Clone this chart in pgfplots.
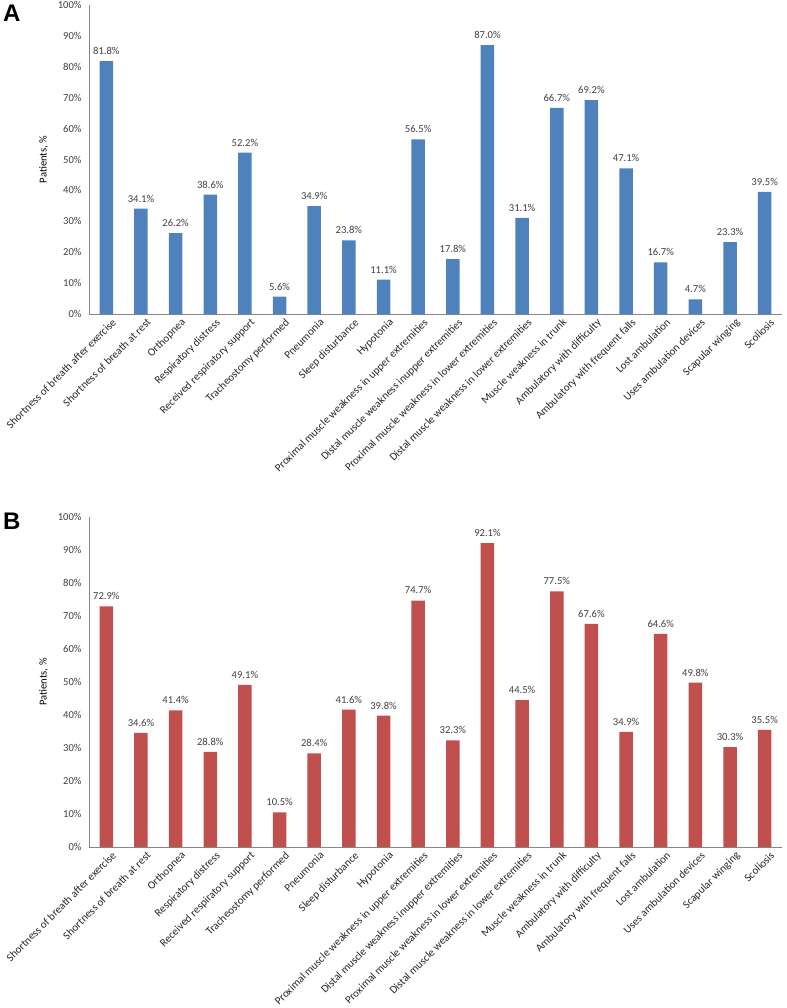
\documentclass[border=0pt]{standalone}
\usepackage{pgfplots}
\pgfplotsset{compat=1.18}
\usepackage{fontspec}
\setmainfont{Carlito}
\newfontfamily\panelfont{Liberation Sans}
\definecolor{barblue}{HTML}{4F81BD}
\definecolor{barred}{HTML}{C0504D}
\definecolor{axgray}{HTML}{868686}
\definecolor{txt}{HTML}{404040}
\newcommand\lf{\fontsize{10.6bp}{12bp}\selectfont}
\newcommand\cf{\fontsize{11bp}{13bp}\selectfont}
\begin{document}
\begin{tikzpicture}
\useasboundingbox (0,0) rectangle (787bp,-1008bp);
\pgfplotsset{
  mybars/.style={
    scale only axis,
    width=693bp,
    xmin=-0.5, xmax=19.5,
    ymin=0, ymax=100,
    enlargelimits=false,
    axis x line*=bottom,
    axis y line*=left,
    axis line style={-, axgray, line width=0.8pt},
    major tick length=0pt,
    xtick={0,...,19},
    xticklabels={Shortness of breath after exercise,Shortness of breath at rest,Orthopnea,Respiratory distress,Received respiratory support,Tracheostomy performed,Pneumonia,Sleep disturbance,Hypotonia,Proximal muscle weakness in upper extremities,Distal muscle weakness inupper extremities,Proximal muscle weakness in lower extremities,Distal muscle weakness in lower extremities,Muscle weakness in trunk,Ambulatory with difficulty,Ambulatory with frequent falls,Lost ambulation,Uses ambulation devices,Scapular winging,Scoliosis},
    xticklabel style={rotate=45, anchor=north east, font=\cf, text=black!85, inner sep=1pt, xshift=2bp, yshift=-5bp},
    ytick={0,10,...,100},
    yticklabel={\pgfmathprintnumber{\tick}\%},
    yticklabel style={font=\lf, text=txt, xshift=-4bp},
    /pgf/number format/assume math mode=true,
    ylabel={Patients, \%},
    ylabel style={font=\lf, text=black, at={(axis description cs:-0.054,0.5)}, anchor=south},
    nodes near coords={\pgfmathprintnumber[fixed,fixed zerofill,precision=1]{\pgfplotspointmeta}\%},
    every node near coord/.append style={font=\lf, text=txt, yshift=3bp},
    ybar, bar width=13.5bp,
    clip=false,
  }
}
\begin{axis}[mybars, height=309bp, at={(89bp,-314bp)}, anchor=south west]
\addplot[fill=barblue, draw=none] coordinates {
(0,81.8) (1,34.1) (2,26.2) (3,38.6) (4,52.2) (5,5.6) (6,34.9) (7,23.8) (8,11.1) (9,56.5)
(10,17.8) (11,87.0) (12,31.1) (13,66.7) (14,69.2) (15,47.1) (16,16.7) (17,4.7) (18,23.3) (19,39.5)};
\end{axis}
\begin{axis}[mybars, height=330bp, at={(89bp,-847bp)}, anchor=south west]
\addplot[fill=barred, draw=none] coordinates {
(0,72.9) (1,34.6) (2,41.4) (3,28.8) (4,49.1) (5,10.5) (6,28.4) (7,41.6) (8,39.8) (9,74.7)
(10,32.3) (11,92.1) (12,44.5) (13,77.5) (14,67.6) (15,34.9) (16,64.6) (17,49.8) (18,30.3) (19,35.5)};
\end{axis}
\node[font=\panelfont\bfseries\fontsize{24bp}{26bp}\selectfont, anchor=north west, inner sep=0pt] at (3bp,-5bp) {A};
\node[font=\panelfont\bfseries\fontsize{24bp}{26bp}\selectfont, anchor=north west, inner sep=0pt] at (3bp,-513bp) {B};
\end{tikzpicture}
\end{document}
